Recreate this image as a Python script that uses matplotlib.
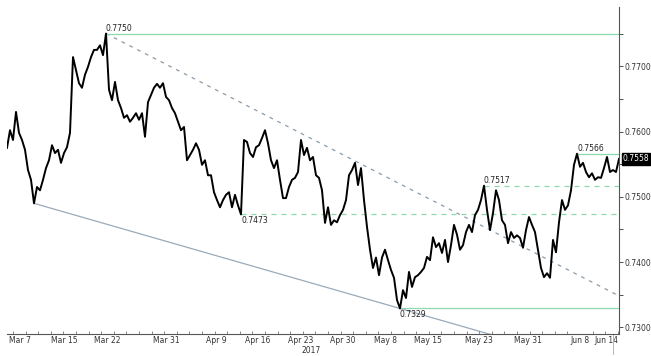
import matplotlib.pyplot as plt
import matplotlib.transforms as mtransforms
import numpy as np

# AUD/USD style price path, one value per bar (bars are evenly spaced in trading time)
close = [
    0.7575, 0.7602, 0.7587, 0.7630, 0.7598, 0.7587, 0.7572, 0.7541, 0.7526, 0.7490,
    0.7515, 0.7510, 0.7526, 0.7544, 0.7556, 0.7579, 0.7567, 0.7572, 0.7552, 0.7567,
    0.7576, 0.7598, 0.7714, 0.7694, 0.7674, 0.7667, 0.7687, 0.7699, 0.7714, 0.7725,
    0.7725, 0.7732, 0.7717, 0.7750, 0.7664, 0.7648, 0.7676, 0.7648, 0.7636, 0.7621,
    0.7625, 0.7615, 0.7621, 0.7628, 0.7618, 0.7628, 0.7592, 0.7645, 0.7656, 0.7667,
    0.7673, 0.7667, 0.7674, 0.7653, 0.7648, 0.7636, 0.7628, 0.7615, 0.7602, 0.7607,
    0.7556, 0.7564, 0.7572, 0.7582, 0.7572, 0.7549, 0.7556, 0.7533, 0.7533, 0.7507,
    0.7495, 0.7484, 0.7495, 0.7503, 0.7507, 0.7484, 0.7503, 0.7487, 0.7473, 0.7587,
    0.7584, 0.7567, 0.7561, 0.7576, 0.7579, 0.7590, 0.7602, 0.7582, 0.7556, 0.7544,
    0.7556, 0.7526, 0.7498, 0.7498, 0.7515, 0.7526, 0.7529, 0.7538, 0.7587, 0.7564,
    0.7575, 0.7556, 0.7561, 0.7533, 0.7529, 0.7510, 0.7460, 0.7484, 0.7457, 0.7464,
    0.7461, 0.7472, 0.7480, 0.7495, 0.7533, 0.7541, 0.7552, 0.7518, 0.7544, 0.7495,
    0.7454, 0.7419, 0.7391, 0.7407, 0.7380, 0.7407, 0.7419, 0.7403, 0.7388, 0.7376,
    0.7342, 0.7329, 0.7357, 0.7345, 0.7385, 0.7362, 0.7377, 0.7380, 0.7385, 0.7391,
    0.7408, 0.7403, 0.7438, 0.7423, 0.7429, 0.7414, 0.7434, 0.7400, 0.7426, 0.7457,
    0.7442, 0.7419, 0.7426, 0.7446, 0.7457, 0.7446, 0.7472, 0.7480, 0.7495, 0.7517,
    0.7480, 0.7449, 0.7475, 0.7510, 0.7495, 0.7464, 0.7457, 0.7429, 0.7446, 0.7437,
    0.7441, 0.7437, 0.7422, 0.7449, 0.7469, 0.7457, 0.7446, 0.7419, 0.7391, 0.7377,
    0.7383, 0.7376, 0.7434, 0.7415, 0.7461, 0.7495, 0.7480, 0.7487, 0.7510, 0.7549,
    0.7566, 0.7546, 0.7552, 0.7538, 0.7530, 0.7536, 0.7526, 0.7530, 0.7529, 0.7544,
    0.7561, 0.7538, 0.7541, 0.7538, 0.7558,
]

date_labels = ['Mar 7', 'Mar 15', 'Mar 22', 'Mar 31', 'Apr 9', 'Apr 16', 'Apr 23',
               'Apr 30', 'May 8', 'May 15', 'May 23', 'May 31', 'Jun 8', 'Jun 14']
date_bars = [4.3, 19, 33.3, 53, 69.7, 83.7, 98, 112, 126.3, 140.3, 157.3, 173.7, 191, 199.7]

# marked levels: (price, bar where line starts, solid?, label above?)
levels = [
    (0.7750, 33, True, True),
    (0.7329, 131, True, False),
    (0.7566, 190, True, True),
    (0.7517, 159, False, True),
    (0.7473, 78, False, False),
]

# trend lines, each through two (bar, price) anchors
resistance = [(33, 0.7750), (116, 0.7555)]
support = [(9, 0.7490), (131, 0.7329)]

x = np.arange(len(close))
last = close[-1]
xmax = 204

fig = plt.figure(figsize=(6.51, 3.56), dpi=100)
ax = fig.add_axes([7 / 651, 22 / 356, 612 / 651, 327 / 356])

ax.plot(x, close, color='black', lw=1.4, zorder=3)

green = '#8ed8ae'
for price, start, solid, above in levels:
    ax.hlines(price, start, xmax, colors=green, lw=0.9,
              linestyles='-' if solid else (0, (4, 4)), zorder=2)
    ax.text(start, price + (0.00012 if above else -0.00025), f'{price:.4f}',
            fontsize=5.5, ha='left', va='bottom' if above else 'top', color='#222222')

# trend lines drawn from the first anchor to the right edge
for (x1, y1), (x2, y2), style, col in [(*resistance, (0, (3, 4)), '#8a9aa8'),
                                       (*support, '-', '#9aaabb')]:
    slope = (y2 - y1) / (x2 - x1)
    ax.plot([x1, xmax], [y1, y1 + slope * (xmax - x1)], color=col, lw=0.9, ls=style, zorder=1)

ax.set_xlim(0, xmax)
ax.set_ylim(0.72899, 0.77907)

for s in ['left', 'top']:
    ax.spines[s].set_visible(False)
ax.spines['bottom'].set_color('#555555')
ax.spines['right'].set_color('#555555')
ax.spines['bottom'].set_linewidth(0.8)
ax.spines['right'].set_linewidth(0.8)

ax.yaxis.tick_right()
ax.set_yticks([0.7300, 0.7400, 0.7500, 0.7600, 0.7700])
ax.set_yticklabels([f'{v:.4f}' for v in ax.get_yticks()])
ax.set_yticks([0.7350, 0.7450, 0.7550, 0.7650, 0.7750], minor=True)
ax.tick_params(axis='y', which='both', direction='out', length=3, width=0.6,
               labelsize=5.5, pad=1, colors='#333333')

ax.set_xticks(date_bars)
ax.set_xticklabels(date_labels)
ax.set_xticks(np.arange(2, xmax, 4.2), minor=True)
ax.tick_params(axis='x', which='major', length=0, labelsize=5.5, pad=1.5, colors='#333333')
ax.tick_params(axis='x', which='minor', direction='in', length=2, width=0.6, colors='#777777')

ax.text(101.5, -0.036, '2017', transform=mtransforms.blended_transform_factory(ax.transData, ax.transAxes),
        fontsize=5.5, ha='center', va='top', color='#333333')

# last price tag
trans = mtransforms.blended_transform_factory(ax.transAxes, ax.transData)
ax.text(1.006, last, f'{last:.4f}', transform=trans, fontsize=5.5, color='white',
        ha='left', va='center', bbox=dict(boxstyle='square,pad=0.15', fc='black', ec='black'))

# current bar marker below the axis
ax.plot([len(close) - 3, len(close) - 3], [0, -0.06], transform=mtransforms.blended_transform_factory(ax.transData, ax.transAxes),
        color='#aaaaaa', lw=0.6, clip_on=False)

plt.savefig('out.png', dpi=100)
